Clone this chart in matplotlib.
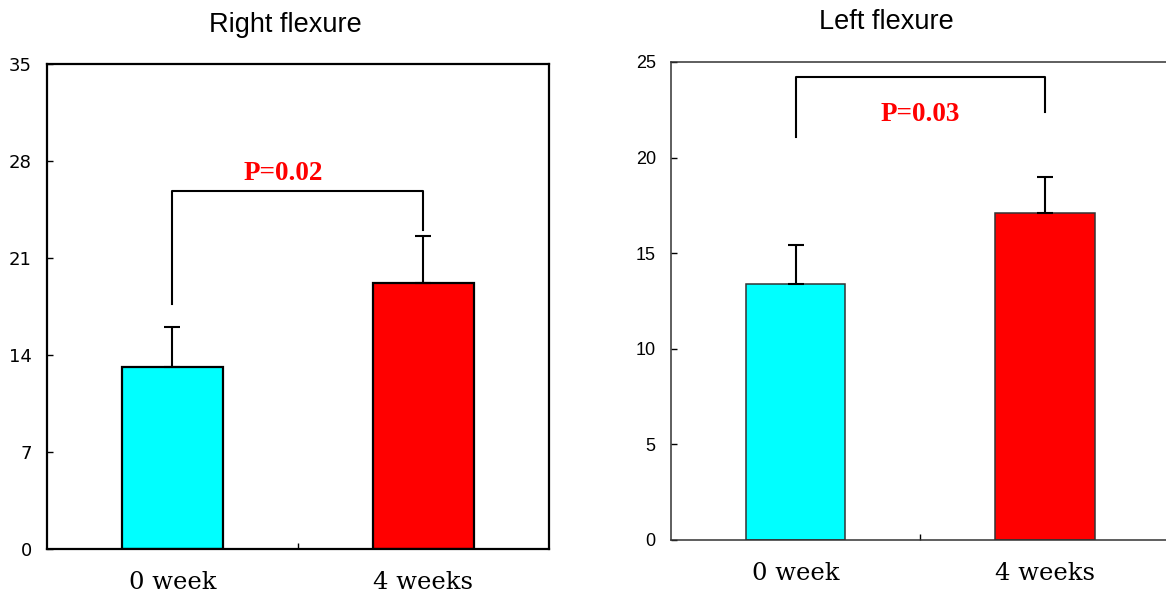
import matplotlib
matplotlib.use("Agg")
import matplotlib.pyplot as plt

categories = ["0 week", "4 weeks"]
colors = ["#00FFFF", "#FF0000"]

right_means = [13.1, 19.2]
right_err = [2.9, 3.4]
right_yticks = [0, 7, 14, 21, 28, 35]
right_bracket = [17.7, 25.8, 23.0]   # left leg bottom, top, right leg bottom
right_p = "P=0.02"

left_means = [13.4, 17.1]
left_err = [2.05, 1.9]
left_yticks = [0, 5, 10, 15, 20, 25]
left_bracket = [21.1, 24.2, 22.4]
left_p = "P=0.03"

fig = plt.figure(figsize=(11.66, 5.96), dpi=100)

def panel(rect, means, errs, yticks, bracket, ptext, p_x, p_y,
          lw, edge, tickfont, ticksize, ypad, xpad, full_box):
    ax = fig.add_axes(rect)
    x = list(range(len(categories)))
    ax.bar(x, means, width=0.4, color=colors, edgecolor=edge, linewidth=lw, zorder=2)
    ax.errorbar(x, means, yerr=[[0]*len(errs), errs], fmt="none", ecolor="black",
                elinewidth=1.5, capsize=6, capthick=1.5, zorder=3)
    ax.plot([0, 0, 1, 1], [bracket[0], bracket[1], bracket[1], bracket[2]],
            color="black", lw=1.5, zorder=3)
    ax.text(p_x, p_y, ptext, color="red", fontsize=19.5, fontweight="bold",
            family="Liberation Serif", ha="center", va="center")
    ax.set_xlim(-0.5, 1.5)
    ax.set_ylim(yticks[0], yticks[-1])
    ax.set_yticks(yticks)
    ax.set_yticklabels([str(t) for t in yticks], fontsize=ticksize, family=tickfont)
    ax.tick_params(axis="y", direction="in", length=4, width=1, pad=ypad)
    ax.set_xticks(x)
    ax.set_xticklabels(categories, fontsize=17.5, family="DejaVu Serif")
    ax.tick_params(axis="x", length=0, pad=xpad)
    ax.set_xticks([0.5], minor=True)
    ax.tick_params(axis="x", which="minor", direction="in", length=4, width=1)
    for s in ax.spines.values():
        s.set_linewidth(lw)
        s.set_color("black" if full_box else "#333333")
    return ax

panel([0.0403, 0.0789, 0.4305, 0.8138], right_means, right_err, right_yticks,
      right_bracket, right_p, 0.44, 27.1, 1.6, "black",
      "Liberation Sans Narrow", 13, 11, 16, True)
panel([0.5755, 0.094, 0.4275, 0.802], left_means, left_err, left_yticks,
      left_bracket, left_p, 0.5, 22.25, 1.1, "#333333",
      "Liberation Sans", 13, 11, 16, False)

fig.text(285 / 1166, 1 - 25 / 596, "Right flexure", fontsize=19.5,
         family="Liberation Sans", ha="center", va="center")
fig.text(886 / 1166, 1 - 22 / 596, "Left flexure", fontsize=19.5,
         family="Liberation Sans", ha="center", va="center")

fig.savefig("out.png", dpi=100)
